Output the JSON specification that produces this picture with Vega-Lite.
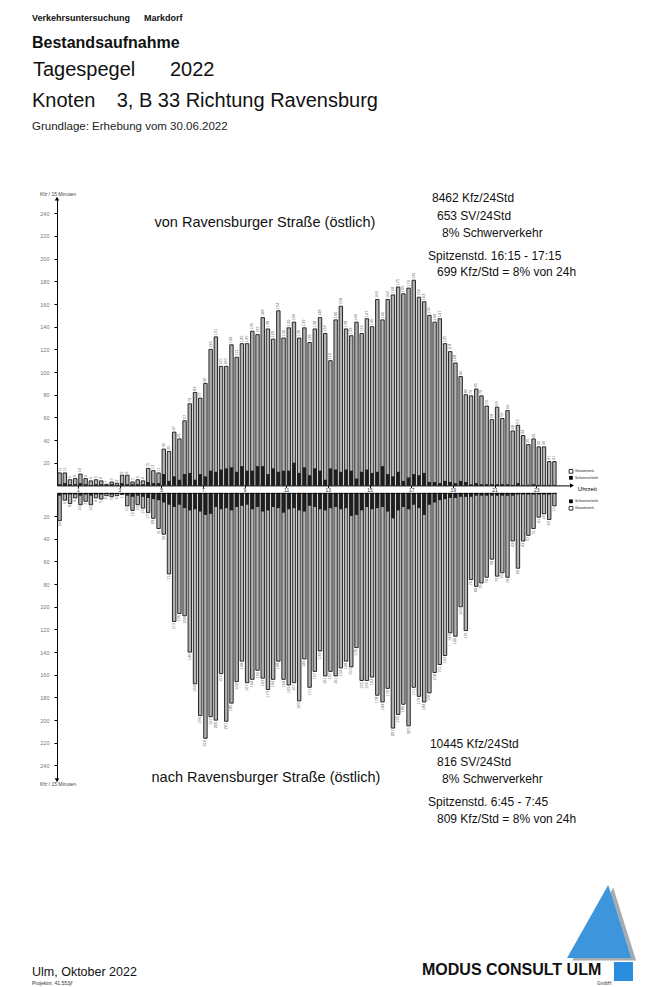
{
"$schema":"https://vega.github.io/schema/vega-lite/v6.json",
"width":589,"height":987,
"autosize":{"type":"none"},
"padding":{"left":57,"top":0,"right":0,"bottom":0},
"background":"#ffffff",
"config":{"view":{"stroke":null},"font":"Liberation Sans","axis":{"grid":false,"labelFlush":false,"labelOverlap":false,"domainColor":"#000","tickColor":"#000","domainWidth":1}},
"data":{"values":[
{"beginn":0,"ende":0.25,"richtung":"von","kfz":11,"sv":1},
{"beginn":0.25,"ende":0.5,"richtung":"von","kfz":11,"sv":2},
{"beginn":0.5,"ende":0.75,"richtung":"von","kfz":5,"sv":1},
{"beginn":0.75,"ende":1,"richtung":"von","kfz":6,"sv":1},
{"beginn":1,"ende":1.25,"richtung":"von","kfz":10,"sv":2},
{"beginn":1.25,"ende":1.5,"richtung":"von","kfz":6,"sv":1},
{"beginn":1.5,"ende":1.75,"richtung":"von","kfz":4,"sv":0},
{"beginn":1.75,"ende":2,"richtung":"von","kfz":5,"sv":1},
{"beginn":2,"ende":2.25,"richtung":"von","kfz":4,"sv":1},
{"beginn":2.25,"ende":2.5,"richtung":"von","kfz":1,"sv":0},
{"beginn":2.5,"ende":2.75,"richtung":"von","kfz":3,"sv":1},
{"beginn":2.75,"ende":3,"richtung":"von","kfz":2,"sv":0},
{"beginn":3,"ende":3.25,"richtung":"von","kfz":9,"sv":2},
{"beginn":3.25,"ende":3.5,"richtung":"von","kfz":9,"sv":1},
{"beginn":3.5,"ende":3.75,"richtung":"von","kfz":3,"sv":1},
{"beginn":3.75,"ende":4,"richtung":"von","kfz":5,"sv":1},
{"beginn":4,"ende":4.25,"richtung":"von","kfz":4,"sv":1},
{"beginn":4.25,"ende":4.5,"richtung":"von","kfz":15,"sv":3},
{"beginn":4.5,"ende":4.75,"richtung":"von","kfz":13,"sv":2},
{"beginn":4.75,"ende":5,"richtung":"von","kfz":11,"sv":2},
{"beginn":5,"ende":5.25,"richtung":"von","kfz":32,"sv":10},
{"beginn":5.25,"ende":5.5,"richtung":"von","kfz":30,"sv":4},
{"beginn":5.5,"ende":5.75,"richtung":"von","kfz":47,"sv":8},
{"beginn":5.75,"ende":6,"richtung":"von","kfz":41,"sv":5},
{"beginn":6,"ende":6.25,"richtung":"von","kfz":57,"sv":10},
{"beginn":6.25,"ende":6.5,"richtung":"von","kfz":72,"sv":11},
{"beginn":6.5,"ende":6.75,"richtung":"von","kfz":82,"sv":5},
{"beginn":6.75,"ende":7,"richtung":"von","kfz":77,"sv":10},
{"beginn":7,"ende":7.25,"richtung":"von","kfz":90,"sv":8},
{"beginn":7.25,"ende":7.5,"richtung":"von","kfz":120,"sv":13},
{"beginn":7.5,"ende":7.75,"richtung":"von","kfz":131,"sv":12},
{"beginn":7.75,"ende":8,"richtung":"von","kfz":105,"sv":14},
{"beginn":8,"ende":8.25,"richtung":"von","kfz":105,"sv":15},
{"beginn":8.25,"ende":8.5,"richtung":"von","kfz":124,"sv":16},
{"beginn":8.5,"ende":8.75,"richtung":"von","kfz":113,"sv":12},
{"beginn":8.75,"ende":9,"richtung":"von","kfz":125,"sv":17},
{"beginn":9,"ende":9.25,"richtung":"von","kfz":125,"sv":13},
{"beginn":9.25,"ende":9.5,"richtung":"von","kfz":136,"sv":13},
{"beginn":9.5,"ende":9.75,"richtung":"von","kfz":133,"sv":17},
{"beginn":9.75,"ende":10,"richtung":"von","kfz":148,"sv":17},
{"beginn":10,"ende":10.25,"richtung":"von","kfz":138,"sv":10},
{"beginn":10.25,"ende":10.5,"richtung":"von","kfz":129,"sv":15},
{"beginn":10.5,"ende":10.75,"richtung":"von","kfz":154,"sv":12},
{"beginn":10.75,"ende":11,"richtung":"von","kfz":130,"sv":13},
{"beginn":11,"ende":11.25,"richtung":"von","kfz":139,"sv":13},
{"beginn":11.25,"ende":11.5,"richtung":"von","kfz":144,"sv":20},
{"beginn":11.5,"ende":11.75,"richtung":"von","kfz":130,"sv":11},
{"beginn":11.75,"ende":12,"richtung":"von","kfz":139,"sv":16},
{"beginn":12,"ende":12.25,"richtung":"von","kfz":126,"sv":9},
{"beginn":12.25,"ende":12.5,"richtung":"von","kfz":138,"sv":15},
{"beginn":12.5,"ende":12.75,"richtung":"von","kfz":148,"sv":13},
{"beginn":12.75,"ende":13,"richtung":"von","kfz":134,"sv":5},
{"beginn":13,"ende":13.25,"richtung":"von","kfz":110,"sv":15},
{"beginn":13.25,"ende":13.5,"richtung":"von","kfz":146,"sv":14},
{"beginn":13.5,"ende":13.75,"richtung":"von","kfz":158,"sv":12},
{"beginn":13.75,"ende":14,"richtung":"von","kfz":138,"sv":14},
{"beginn":14,"ende":14.25,"richtung":"von","kfz":132,"sv":13},
{"beginn":14.25,"ende":14.5,"richtung":"von","kfz":144,"sv":6},
{"beginn":14.5,"ende":14.75,"richtung":"von","kfz":134,"sv":12},
{"beginn":14.75,"ende":15,"richtung":"von","kfz":147,"sv":14},
{"beginn":15,"ende":15.25,"richtung":"von","kfz":140,"sv":11},
{"beginn":15.25,"ende":15.5,"richtung":"von","kfz":164,"sv":12},
{"beginn":15.5,"ende":15.75,"richtung":"von","kfz":146,"sv":17},
{"beginn":15.75,"ende":16,"richtung":"von","kfz":164,"sv":10},
{"beginn":16,"ende":16.25,"richtung":"von","kfz":168,"sv":8},
{"beginn":16.25,"ende":16.5,"richtung":"von","kfz":175,"sv":12},
{"beginn":16.5,"ende":16.75,"richtung":"von","kfz":169,"sv":4},
{"beginn":16.75,"ende":17,"richtung":"von","kfz":174,"sv":7},
{"beginn":17,"ende":17.25,"richtung":"von","kfz":181,"sv":10},
{"beginn":17.25,"ende":17.5,"richtung":"von","kfz":166,"sv":9},
{"beginn":17.5,"ende":17.75,"richtung":"von","kfz":162,"sv":11},
{"beginn":17.75,"ende":18,"richtung":"von","kfz":150,"sv":3},
{"beginn":18,"ende":18.25,"richtung":"von","kfz":144,"sv":3},
{"beginn":18.25,"ende":18.5,"richtung":"von","kfz":147,"sv":2},
{"beginn":18.5,"ende":18.75,"richtung":"von","kfz":125,"sv":4},
{"beginn":18.75,"ende":19,"richtung":"von","kfz":118,"sv":3},
{"beginn":19,"ende":19.25,"richtung":"von","kfz":108,"sv":2},
{"beginn":19.25,"ende":19.5,"richtung":"von","kfz":96,"sv":4},
{"beginn":19.5,"ende":19.75,"richtung":"von","kfz":80,"sv":3},
{"beginn":19.75,"ende":20,"richtung":"von","kfz":79,"sv":1},
{"beginn":20,"ende":20.25,"richtung":"von","kfz":85,"sv":2},
{"beginn":20.25,"ende":20.5,"richtung":"von","kfz":79,"sv":1},
{"beginn":20.5,"ende":20.75,"richtung":"von","kfz":70,"sv":1},
{"beginn":20.75,"ende":21,"richtung":"von","kfz":58,"sv":1},
{"beginn":21,"ende":21.25,"richtung":"von","kfz":69,"sv":1},
{"beginn":21.25,"ende":21.5,"richtung":"von","kfz":59,"sv":1},
{"beginn":21.5,"ende":21.75,"richtung":"von","kfz":66,"sv":1},
{"beginn":21.75,"ende":22,"richtung":"von","kfz":48,"sv":0},
{"beginn":22,"ende":22.25,"richtung":"von","kfz":53,"sv":2},
{"beginn":22.25,"ende":22.5,"richtung":"von","kfz":44,"sv":0},
{"beginn":22.5,"ende":22.75,"richtung":"von","kfz":36,"sv":0},
{"beginn":22.75,"ende":23,"richtung":"von","kfz":41,"sv":1},
{"beginn":23,"ende":23.25,"richtung":"von","kfz":34,"sv":0},
{"beginn":23.25,"ende":23.5,"richtung":"von","kfz":34,"sv":0},
{"beginn":23.5,"ende":23.75,"richtung":"von","kfz":21,"sv":0},
{"beginn":23.75,"ende":24,"richtung":"von","kfz":21,"sv":0},
{"beginn":0,"ende":0.25,"richtung":"nach","kfz":24,"sv":2},
{"beginn":0.25,"ende":0.5,"richtung":"nach","kfz":6,"sv":1},
{"beginn":0.5,"ende":0.75,"richtung":"nach","kfz":9,"sv":1},
{"beginn":0.75,"ende":1,"richtung":"nach","kfz":4,"sv":1},
{"beginn":1,"ende":1.25,"richtung":"nach","kfz":10,"sv":2},
{"beginn":1.25,"ende":1.5,"richtung":"nach","kfz":7,"sv":1},
{"beginn":1.5,"ende":1.75,"richtung":"nach","kfz":10,"sv":2},
{"beginn":1.75,"ende":2,"richtung":"nach","kfz":4,"sv":1},
{"beginn":2,"ende":2.25,"richtung":"nach","kfz":5,"sv":1},
{"beginn":2.25,"ende":2.5,"richtung":"nach","kfz":2,"sv":0},
{"beginn":2.5,"ende":2.75,"richtung":"nach","kfz":3,"sv":1},
{"beginn":2.75,"ende":3,"richtung":"nach","kfz":2,"sv":0},
{"beginn":3,"ende":3.25,"richtung":"nach","kfz":1,"sv":0},
{"beginn":3.25,"ende":3.5,"richtung":"nach","kfz":11,"sv":2},
{"beginn":3.5,"ende":3.75,"richtung":"nach","kfz":15,"sv":3},
{"beginn":3.75,"ende":4,"richtung":"nach","kfz":10,"sv":2},
{"beginn":4,"ende":4.25,"richtung":"nach","kfz":13,"sv":3},
{"beginn":4.25,"ende":4.5,"richtung":"nach","kfz":17,"sv":4},
{"beginn":4.5,"ende":4.75,"richtung":"nach","kfz":22,"sv":5},
{"beginn":4.75,"ende":5,"richtung":"nach","kfz":31,"sv":6},
{"beginn":5,"ende":5.25,"richtung":"nach","kfz":36,"sv":8},
{"beginn":5.25,"ende":5.5,"richtung":"nach","kfz":71,"sv":10},
{"beginn":5.5,"ende":5.75,"richtung":"nach","kfz":113,"sv":12},
{"beginn":5.75,"ende":6,"richtung":"nach","kfz":106,"sv":10},
{"beginn":6,"ende":6.25,"richtung":"nach","kfz":108,"sv":13},
{"beginn":6.25,"ende":6.5,"richtung":"nach","kfz":140,"sv":15},
{"beginn":6.5,"ende":6.75,"richtung":"nach","kfz":168,"sv":14},
{"beginn":6.75,"ende":7,"richtung":"nach","kfz":196,"sv":16},
{"beginn":7,"ende":7.25,"richtung":"nach","kfz":216,"sv":19},
{"beginn":7.25,"ende":7.5,"richtung":"nach","kfz":197,"sv":18},
{"beginn":7.5,"ende":7.75,"richtung":"nach","kfz":200,"sv":12},
{"beginn":7.75,"ende":8,"richtung":"nach","kfz":159,"sv":14},
{"beginn":8,"ende":8.25,"richtung":"nach","kfz":201,"sv":13},
{"beginn":8.25,"ende":8.5,"richtung":"nach","kfz":185,"sv":15},
{"beginn":8.5,"ende":8.75,"richtung":"nach","kfz":166,"sv":12},
{"beginn":8.75,"ende":9,"richtung":"nach","kfz":148,"sv":11},
{"beginn":9,"ende":9.25,"richtung":"nach","kfz":167,"sv":10},
{"beginn":9.25,"ende":9.5,"richtung":"nach","kfz":164,"sv":14},
{"beginn":9.5,"ende":9.75,"richtung":"nach","kfz":156,"sv":12},
{"beginn":9.75,"ende":10,"richtung":"nach","kfz":163,"sv":16},
{"beginn":10,"ende":10.25,"richtung":"nach","kfz":173,"sv":15},
{"beginn":10.25,"ende":10.5,"richtung":"nach","kfz":164,"sv":12},
{"beginn":10.5,"ende":10.75,"richtung":"nach","kfz":148,"sv":13},
{"beginn":10.75,"ende":11,"richtung":"nach","kfz":164,"sv":17},
{"beginn":11,"ende":11.25,"richtung":"nach","kfz":169,"sv":14},
{"beginn":11.25,"ende":11.5,"richtung":"nach","kfz":167,"sv":13},
{"beginn":11.5,"ende":11.75,"richtung":"nach","kfz":183,"sv":15},
{"beginn":11.75,"ende":12,"richtung":"nach","kfz":146,"sv":16},
{"beginn":12,"ende":12.25,"richtung":"nach","kfz":171,"sv":11},
{"beginn":12.25,"ende":12.5,"richtung":"nach","kfz":157,"sv":12},
{"beginn":12.5,"ende":12.75,"richtung":"nach","kfz":139,"sv":14},
{"beginn":12.75,"ende":13,"richtung":"nach","kfz":161,"sv":15},
{"beginn":13,"ende":13.25,"richtung":"nach","kfz":157,"sv":13},
{"beginn":13.25,"ende":13.5,"richtung":"nach","kfz":161,"sv":12},
{"beginn":13.5,"ende":13.75,"richtung":"nach","kfz":154,"sv":14},
{"beginn":13.75,"ende":14,"richtung":"nach","kfz":148,"sv":13},
{"beginn":14,"ende":14.25,"richtung":"nach","kfz":153,"sv":20},
{"beginn":14.25,"ende":14.5,"richtung":"nach","kfz":136,"sv":19},
{"beginn":14.5,"ende":14.75,"richtung":"nach","kfz":165,"sv":15},
{"beginn":14.75,"ende":15,"richtung":"nach","kfz":165,"sv":12},
{"beginn":15,"ende":15.25,"richtung":"nach","kfz":162,"sv":14},
{"beginn":15.25,"ende":15.5,"richtung":"nach","kfz":178,"sv":13},
{"beginn":15.5,"ende":15.75,"richtung":"nach","kfz":184,"sv":12},
{"beginn":15.75,"ende":16,"richtung":"nach","kfz":172,"sv":16},
{"beginn":16,"ende":16.25,"richtung":"nach","kfz":207,"sv":22},
{"beginn":16.25,"ende":16.5,"richtung":"nach","kfz":195,"sv":15},
{"beginn":16.5,"ende":16.75,"richtung":"nach","kfz":186,"sv":12},
{"beginn":16.75,"ende":17,"richtung":"nach","kfz":205,"sv":14},
{"beginn":17,"ende":17.25,"richtung":"nach","kfz":171,"sv":10},
{"beginn":17.25,"ende":17.5,"richtung":"nach","kfz":179,"sv":13},
{"beginn":17.5,"ende":17.75,"richtung":"nach","kfz":184,"sv":19},
{"beginn":17.75,"ende":18,"richtung":"nach","kfz":176,"sv":10},
{"beginn":18,"ende":18.25,"richtung":"nach","kfz":158,"sv":8},
{"beginn":18.25,"ende":18.5,"richtung":"nach","kfz":151,"sv":6},
{"beginn":18.5,"ende":18.75,"richtung":"nach","kfz":143,"sv":5},
{"beginn":18.75,"ende":19,"richtung":"nach","kfz":123,"sv":4},
{"beginn":19,"ende":19.25,"richtung":"nach","kfz":126,"sv":4},
{"beginn":19.25,"ende":19.5,"richtung":"nach","kfz":100,"sv":3},
{"beginn":19.5,"ende":19.75,"richtung":"nach","kfz":121,"sv":3},
{"beginn":19.75,"ende":20,"richtung":"nach","kfz":76,"sv":3},
{"beginn":20,"ende":20.25,"richtung":"nach","kfz":82,"sv":2},
{"beginn":20.25,"ende":20.5,"richtung":"nach","kfz":79,"sv":2},
{"beginn":20.5,"ende":20.75,"richtung":"nach","kfz":74,"sv":2},
{"beginn":20.75,"ende":21,"richtung":"nach","kfz":58,"sv":2},
{"beginn":21,"ende":21.25,"richtung":"nach","kfz":73,"sv":2},
{"beginn":21.25,"ende":21.5,"richtung":"nach","kfz":70,"sv":2},
{"beginn":21.5,"ende":21.75,"richtung":"nach","kfz":74,"sv":2},
{"beginn":21.75,"ende":22,"richtung":"nach","kfz":42,"sv":2},
{"beginn":22,"ende":22.25,"richtung":"nach","kfz":66,"sv":1},
{"beginn":22.25,"ende":22.5,"richtung":"nach","kfz":42,"sv":1},
{"beginn":22.5,"ende":22.75,"richtung":"nach","kfz":37,"sv":1},
{"beginn":22.75,"ende":23,"richtung":"nach","kfz":31,"sv":1},
{"beginn":23,"ende":23.25,"richtung":"nach","kfz":21,"sv":1},
{"beginn":23.25,"ende":23.5,"richtung":"nach","kfz":18,"sv":1},
{"beginn":23.5,"ende":23.75,"richtung":"nach","kfz":23,"sv":1},
{"beginn":23.75,"ende":24,"richtung":"nach","kfz":11,"sv":0}
]},
"layer":[
{"layer":[
 {"transform":[{"filter":"datum.richtung === 'von'"}],
  "mark":{"type":"bar","fill":"#b2b2b2","stroke":"#141414","strokeWidth":0.9,"xOffset":0.9,"x2Offset":-0.9},
  "encoding":{
   "x":{"field":"beginn","type":"quantitative","scale":{"domain":[0,24.6],"range":[0,512.5],"nice":false,"zero":false},
        "axis":{"orient":"bottom","offset":-501.6,"values":[1,2,3,4,5,6,7,8,9,10,11,12,13,14,15,16,17,18,19,20,21,22,23,24],"title":null,"labelFontSize":5,"labelColor":"#333","labelPadding":0,"tickSize":2}},
   "x2":{"field":"ende"},
   "y":{"field":"kfz","type":"quantitative","scale":{"domain":[0,252],"range":[485.4,199.7],"nice":false,"zero":false},
        "axis":{"orient":"left","values":[20,40,60,80,100,120,140,160,180,200,220,240],"title":null,"labelFontSize":5.5,"labelColor":"#777","labelPadding":5,"tickSize":3}},
   "y2":{"datum":0}
  }},
 {"transform":[{"filter":"datum.richtung === 'von'"}],
  "mark":{"type":"bar","fill":"#1e1e1e","xOffset":0.9,"x2Offset":-0.9},
  "encoding":{
   "x":{"field":"beginn","type":"quantitative"},
   "x2":{"field":"ende"},
   "y":{"field":"sv","type":"quantitative"},
   "y2":{"datum":0}
  }},
 {"transform":[{"filter":"datum.richtung === 'von'"}],
  "mark":{"type":"text","angle":270,"align":"left","baseline":"middle","dx":1.5,"xOffset":2.6,"fontSize":4,"color":"#666"},
  "encoding":{
   "x":{"field":"beginn","type":"quantitative"},
   "y":{"field":"kfz","type":"quantitative"},
   "text":{"field":"kfz","type":"quantitative"}
  }},
 {"data":{"values":[{}]},"mark":{"type":"point","shape":"triangle-up","size":20,"filled":true,"color":"#000","opacity":1},
  "encoding":{"x":{"datum":0,"type":"quantitative"},"y":{"datum":253,"type":"quantitative"}}},
 {"data":{"values":[{}]},"mark":{"type":"point","shape":"triangle-right","size":20,"filled":true,"color":"#000","opacity":1},
  "encoding":{"x":{"datum":24.72,"type":"quantitative"},"y":{"datum":0,"type":"quantitative"}}},
 {"data":{"values":[{}]},"mark":{"type":"text","text":"Uhrzeit","align":"left","baseline":"middle","fontSize":6,"color":"#000"},
  "encoding":{"x":{"datum":25.0,"type":"quantitative"},"y":{"datum":-3.2,"type":"quantitative"}}},
 {"data":{"values":[{}]},"mark":{"type":"point","shape":"square","size":14,"filled":true,"fill":"#ffffff","stroke":"#000","strokeWidth":0.8,"opacity":1},
  "encoding":{"x":{"datum":24.67,"type":"quantitative"},"y":{"datum":12.4,"type":"quantitative"}}},
 {"data":{"values":[{}]},"mark":{"type":"point","shape":"square","size":14,"filled":true,"color":"#000","opacity":1},
  "encoding":{"x":{"datum":24.67,"type":"quantitative"},"y":{"datum":6.7,"type":"quantitative"}}},
 {"data":{"values":[{}]},"mark":{"type":"text","text":"Gesamtverk.","align":"left","baseline":"middle","fontSize":3.5,"color":"#222"},
  "encoding":{"x":{"datum":24.86,"type":"quantitative"},"y":{"datum":12.4,"type":"quantitative"}}},
 {"data":{"values":[{}]},"mark":{"type":"text","text":"Schwerverkehr","align":"left","baseline":"middle","fontSize":3.5,"color":"#222"},
  "encoding":{"x":{"datum":24.86,"type":"quantitative"},"y":{"datum":6.7,"type":"quantitative"}}},
 {"data":{"values":[{}]},"mark":{"type":"text","text":"Verkehrsuntersuchung","align":"left","baseline":"alphabetic","fontSize":9,"fontWeight":"bold","color":"#111"},
  "encoding":{"x":{"datum":-1.2,"type":"quantitative"},"y":{"datum":409.6,"type":"quantitative"}}},
 {"data":{"values":[{}]},"mark":{"type":"text","text":"Markdorf","align":"left","baseline":"alphabetic","fontSize":9,"fontWeight":"bold","color":"#111"},
  "encoding":{"x":{"datum":4.176,"type":"quantitative"},"y":{"datum":409.6,"type":"quantitative"}}},
 {"data":{"values":[{}]},"mark":{"type":"text","text":"Bestandsaufnahme","align":"left","baseline":"alphabetic","fontSize":16,"fontWeight":"bold","color":"#111"},
  "encoding":{"x":{"datum":-1.2,"type":"quantitative"},"y":{"datum":386.1,"type":"quantitative"}}},
 {"data":{"values":[{}]},"mark":{"type":"text","text":"Tagespegel","align":"left","baseline":"alphabetic","fontSize":20,"color":"#111"},
  "encoding":{"x":{"datum":-1.152,"type":"quantitative"},"y":{"datum":361.1,"type":"quantitative"}}},
 {"data":{"values":[{}]},"mark":{"type":"text","text":"2022","align":"left","baseline":"alphabetic","fontSize":20,"color":"#111"},
  "encoding":{"x":{"datum":5.424,"type":"quantitative"},"y":{"datum":361.1,"type":"quantitative"}}},
 {"data":{"values":[{}]},"mark":{"type":"text","text":"Knoten","align":"left","baseline":"alphabetic","fontSize":20,"color":"#111"},
  "encoding":{"x":{"datum":-1.2,"type":"quantitative"},"y":{"datum":333.5,"type":"quantitative"}}},
 {"data":{"values":[{}]},"mark":{"type":"text","text":"3, B 33 Richtung Ravensburg","align":"left","baseline":"alphabetic","fontSize":20,"color":"#111"},
  "encoding":{"x":{"datum":2.866,"type":"quantitative"},"y":{"datum":333.5,"type":"quantitative"}}},
 {"data":{"values":[{}]},"mark":{"type":"text","text":"Grundlage: Erhebung vom 30.06.2022","align":"left","baseline":"alphabetic","fontSize":11.5,"color":"#222"},
  "encoding":{"x":{"datum":-1.2,"type":"quantitative"},"y":{"datum":313.5,"type":"quantitative"}}},
 {"data":{"values":[{}]},"mark":{"type":"text","text":"Kfz / 15 Minuten","align":"left","baseline":"alphabetic","fontSize":5,"color":"#444"},
  "encoding":{"x":{"datum":-0.816,"type":"quantitative"},"y":{"datum":255.3,"type":"quantitative"}}},
 {"data":{"values":[{}]},"mark":{"type":"text","text":"von Ravensburger Straße (östlich)","align":"center","baseline":"alphabetic","fontSize":14.5,"color":"#111"},
  "encoding":{"x":{"datum":9.98,"type":"quantitative"},"y":{"datum":227.9,"type":"quantitative"}}},
 {"data":{"values":[{}]},"mark":{"type":"text","text":"8462 Kfz/24Std","align":"left","baseline":"alphabetic","fontSize":12,"color":"#111"},
  "encoding":{"x":{"datum":18.0,"type":"quantitative"},"y":{"datum":250.0,"type":"quantitative"}}},
 {"data":{"values":[{}]},"mark":{"type":"text","text":"653 SV/24Std","align":"left","baseline":"alphabetic","fontSize":12,"color":"#111"},
  "encoding":{"x":{"datum":18.24,"type":"quantitative"},"y":{"datum":234.1,"type":"quantitative"}}},
 {"data":{"values":[{}]},"mark":{"type":"text","text":"8% Schwerverkehr","align":"left","baseline":"alphabetic","fontSize":12,"color":"#111"},
  "encoding":{"x":{"datum":18.48,"type":"quantitative"},"y":{"datum":219.1,"type":"quantitative"}}},
 {"data":{"values":[{}]},"mark":{"type":"text","text":"Spitzenstd. 16:15 - 17:15","align":"left","baseline":"alphabetic","fontSize":12,"color":"#111"},
  "encoding":{"x":{"datum":17.81,"type":"quantitative"},"y":{"datum":198.8,"type":"quantitative"}}},
 {"data":{"values":[{}]},"mark":{"type":"text","text":"699 Kfz/Std =  8% von 24h","align":"left","baseline":"alphabetic","fontSize":12,"color":"#111"},
  "encoding":{"x":{"datum":18.24,"type":"quantitative"},"y":{"datum":184.7,"type":"quantitative"}}}
]},
{"layer":[
 {"transform":[{"filter":"datum.richtung === 'nach'"}],
  "mark":{"type":"bar","fill":"#b2b2b2","stroke":"#141414","strokeWidth":0.9,"xOffset":0.9,"x2Offset":-0.9},
  "encoding":{
   "x":{"field":"beginn","type":"quantitative"},
   "x2":{"field":"ende"},
   "y":{"field":"kfz","type":"quantitative","scale":{"domain":[0,252],"range":[493.4,779.1],"nice":false,"zero":false},
        "axis":{"orient":"left","values":[20,40,60,80,100,120,140,160,180,200,220,240],"title":null,"labelFontSize":5.5,"labelColor":"#777","labelPadding":5,"tickSize":3}},
   "y2":{"datum":0}
  }},
 {"transform":[{"filter":"datum.richtung === 'nach'"}],
  "mark":{"type":"bar","fill":"#1e1e1e","xOffset":0.9,"x2Offset":-0.9},
  "encoding":{
   "x":{"field":"beginn","type":"quantitative"},
   "x2":{"field":"ende"},
   "y":{"field":"sv","type":"quantitative"},
   "y2":{"datum":0}
  }},
 {"transform":[{"filter":"datum.richtung === 'nach'"}],
  "mark":{"type":"text","angle":270,"align":"right","baseline":"middle","dx":-1.5,"xOffset":2.6,"fontSize":4,"color":"#666"},
  "encoding":{
   "x":{"field":"beginn","type":"quantitative"},
   "y":{"field":"kfz","type":"quantitative"},
   "text":{"field":"kfz","type":"quantitative"}
  }},
 {"data":{"values":[{}]},"mark":{"type":"rule","color":"#000","strokeWidth":0.8},
  "encoding":{"x":{"datum":0,"type":"quantitative"},"x2":{"datum":24},"y":{"datum":0,"type":"quantitative"}}},
 {"data":{"values":[{}]},"mark":{"type":"point","shape":"triangle-down","size":20,"filled":true,"color":"#000","opacity":1},
  "encoding":{"x":{"datum":0,"type":"quantitative"},"y":{"datum":253,"type":"quantitative"}}},
 {"data":{"values":[{}]},"mark":{"type":"point","shape":"square","size":14,"filled":true,"color":"#000","opacity":1},
  "encoding":{"x":{"datum":24.67,"type":"quantitative"},"y":{"datum":7.0,"type":"quantitative"}}},
 {"data":{"values":[{}]},"mark":{"type":"point","shape":"square","size":14,"filled":true,"fill":"#ffffff","stroke":"#000","strokeWidth":0.8,"opacity":1},
  "encoding":{"x":{"datum":24.67,"type":"quantitative"},"y":{"datum":13.1,"type":"quantitative"}}},
 {"data":{"values":[{}]},"mark":{"type":"text","text":"Schwerverkehr","align":"left","baseline":"middle","fontSize":3.5,"color":"#222"},
  "encoding":{"x":{"datum":24.86,"type":"quantitative"},"y":{"datum":7.0,"type":"quantitative"}}},
 {"data":{"values":[{}]},"mark":{"type":"text","text":"Gesamtverk.","align":"left","baseline":"middle","fontSize":3.5,"color":"#222"},
  "encoding":{"x":{"datum":24.86,"type":"quantitative"},"y":{"datum":13.1,"type":"quantitative"}}},
 {"data":{"values":[{}]},"mark":{"type":"text","text":"Kfz / 15 Minuten","align":"left","baseline":"alphabetic","fontSize":5,"color":"#444"},
  "encoding":{"x":{"datum":-0.816,"type":"quantitative"},"y":{"datum":258.1,"type":"quantitative"}}},
 {"data":{"values":[{}]},"mark":{"type":"text","text":"nach Ravensburger Straße (östlich)","align":"center","baseline":"alphabetic","fontSize":14.5,"color":"#111"},
  "encoding":{"x":{"datum":10.03,"type":"quantitative"},"y":{"datum":254.5,"type":"quantitative"}}},
 {"data":{"values":[{}]},"mark":{"type":"text","text":"10445 Kfz/24Std","align":"left","baseline":"alphabetic","fontSize":12,"color":"#111"},
  "encoding":{"x":{"datum":17.9,"type":"quantitative"},"y":{"datum":224.5,"type":"quantitative"}}},
 {"data":{"values":[{}]},"mark":{"type":"text","text":"816 SV/24Std","align":"left","baseline":"alphabetic","fontSize":12,"color":"#111"},
  "encoding":{"x":{"datum":18.24,"type":"quantitative"},"y":{"datum":240.4,"type":"quantitative"}}},
 {"data":{"values":[{}]},"mark":{"type":"text","text":"8% Schwerverkehr","align":"left","baseline":"alphabetic","fontSize":12,"color":"#111"},
  "encoding":{"x":{"datum":18.48,"type":"quantitative"},"y":{"datum":255.4,"type":"quantitative"}}},
 {"data":{"values":[{}]},"mark":{"type":"text","text":"Spitzenstd.  6:45 -  7:45","align":"left","baseline":"alphabetic","fontSize":12,"color":"#111"},
  "encoding":{"x":{"datum":17.81,"type":"quantitative"},"y":{"datum":275.5,"type":"quantitative"}}},
 {"data":{"values":[{}]},"mark":{"type":"text","text":"809 Kfz/Std =  8% von 24h","align":"left","baseline":"alphabetic","fontSize":12,"color":"#111"},
  "encoding":{"x":{"datum":18.24,"type":"quantitative"},"y":{"datum":290.6,"type":"quantitative"}}},
 {"data":{"values":[{}]},"mark":{"type":"text","text":"Ulm, Oktober 2022","align":"left","baseline":"alphabetic","fontSize":12.5,"color":"#111"},
  "encoding":{"x":{"datum":-1.2,"type":"quantitative"},"y":{"datum":425.6,"type":"quantitative"}}},
 {"data":{"values":[{}]},"mark":{"type":"text","text":"Projektnr. 41.553jf","align":"left","baseline":"alphabetic","fontSize":5,"color":"#333"},
  "encoding":{"x":{"datum":-1.2,"type":"quantitative"},"y":{"datum":433.6,"type":"quantitative"}}},
 {"data":{"values":[{}]},"mark":{"type":"point","shape":"M0.25,-1L0.877,1L-0.877,1Z","size":5329,"filled":true,"color":"#a3abb3","opacity":1},
  "encoding":{"x":{"datum":26.26,"type":"quantitative"},"y":{"datum":379.8,"type":"quantitative"}}},
 {"data":{"values":[{}]},"mark":{"type":"point","shape":"M0.25,-1L0.877,1L-0.877,1Z","size":5329,"filled":true,"color":"#3d95dc","opacity":1},
  "encoding":{"x":{"datum":26.02,"type":"quantitative"},"y":{"datum":377.6,"type":"quantitative"}}},
 {"data":{"values":[{}]},"mark":{"type":"point","shape":"square","size":361,"filled":true,"color":"#2a8de0","opacity":1},
  "encoding":{"x":{"datum":27.19,"type":"quantitative"},"y":{"datum":421.7,"type":"quantitative"}}},
 {"data":{"values":[{}]},"mark":{"type":"text","text":"MODUS CONSULT ULM","align":"left","baseline":"alphabetic","fontSize":16,"fontWeight":"bold","color":"#111"},
  "encoding":{"x":{"datum":17.52,"type":"quantitative"},"y":{"datum":424.8,"type":"quantitative"}}},
 {"data":{"values":[{}]},"mark":{"type":"text","text":"GmbH","align":"left","baseline":"alphabetic","fontSize":5,"color":"#333"},
  "encoding":{"x":{"datum":25.92,"type":"quantitative"},"y":{"datum":433.6,"type":"quantitative"}}}
]}
],
"resolve":{"scale":{"y":"independent"},"axis":{"y":"independent"}}
}
